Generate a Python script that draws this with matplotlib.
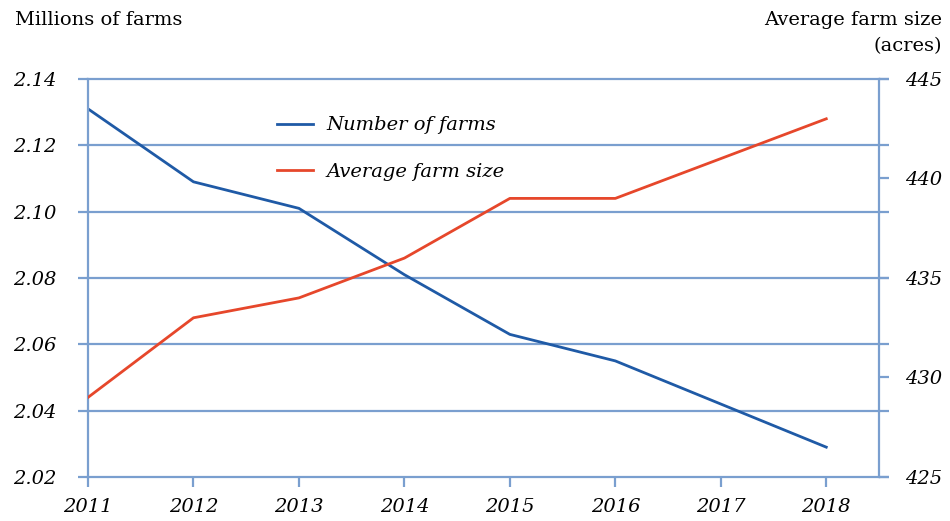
import matplotlib
matplotlib.use('Agg')
import matplotlib.pyplot as plt

years = [2011, 2012, 2013, 2014, 2015, 2016, 2017, 2018]
farms = [2.131, 2.109, 2.101, 2.081, 2.063, 2.055, 2.042, 2.029]
avg_size = [429, 433, 434, 436, 439, 439, 441, 443]
left_ticks = [2.02, 2.04, 2.06, 2.08, 2.10, 2.12, 2.14]
right_ticks = [425, 430, 435, 440, 445]

grid_c = '#7a9fcf'
blue = '#1f5aa6'
red = '#e6472b'
plt.rcParams['font.family'] = ['DejaVu Serif']

fig = plt.figure(figsize=(9.5, 5.21), dpi=100)
ax = fig.add_axes([88 / 950, 1 - 477 / 521, (879 - 88) / 950, (477 - 79) / 521])
ax2 = ax.twinx()

l1, = ax.plot(years, farms, color=blue, lw=2, label='Number of farms')
l2, = ax2.plot(years, avg_size, color=red, lw=2, label='Average farm size')

ax.set_xlim(2011, 2018.5)
ax.set_ylim(2.02, 2.14)
ax2.set_ylim(425, 445)
ax.set_xticks(years)
ax.set_yticks(left_ticks)
ax.set_yticklabels(['%.2f' % v for v in left_ticks], fontsize=14, style='italic')
ax.set_xticklabels([str(y) for y in years], fontsize=14, style='italic')
ax2.set_yticks(right_ticks)
ax2.set_yticklabels([str(v) for v in right_ticks], fontsize=14, style='italic')

ax.grid(axis='y', color=grid_c, lw=1.6)
for gl in ax.get_ygridlines():
    gl.set_clip_on(False)
ax.set_axisbelow(True)
for a in (ax, ax2):
    for s in a.spines.values():
        s.set_visible(False)
ax.spines['left'].set_visible(True)
ax.spines['left'].set_color(grid_c)
ax.spines['left'].set_linewidth(1.6)
ax2.spines['right'].set_visible(True)
ax2.spines['right'].set_color(grid_c)
ax2.spines['right'].set_linewidth(1.6)

ax.tick_params(axis='y', length=7, width=1.6, color=grid_c, pad=16, right=True, labelright=False)
ax.tick_params(axis='x', length=7, width=1.6, color=grid_c, pad=8)
ax2.tick_params(axis='y', length=7, width=1.6, color=grid_c, pad=12)

fig.text(15 / 950, 1 - 20 / 521, 'Millions of farms', fontsize=14, va='center', ha='left')
fig.text(942 / 950, 1 - 20 / 521, 'Average farm size', fontsize=14, va='center', ha='right')
fig.text(942 / 950, 1 - 46 / 521, '(acres)', fontsize=14, va='center', ha='right')

ax.legend(handles=[l1, l2], loc='upper left', bbox_to_anchor=(0.217, 0.95), frameon=False,
          prop={'size': 14, 'style': 'italic'}, handlelength=1.85, labelspacing=1.45,
          handletextpad=0.7)

fig.savefig('out.png', dpi=100)
